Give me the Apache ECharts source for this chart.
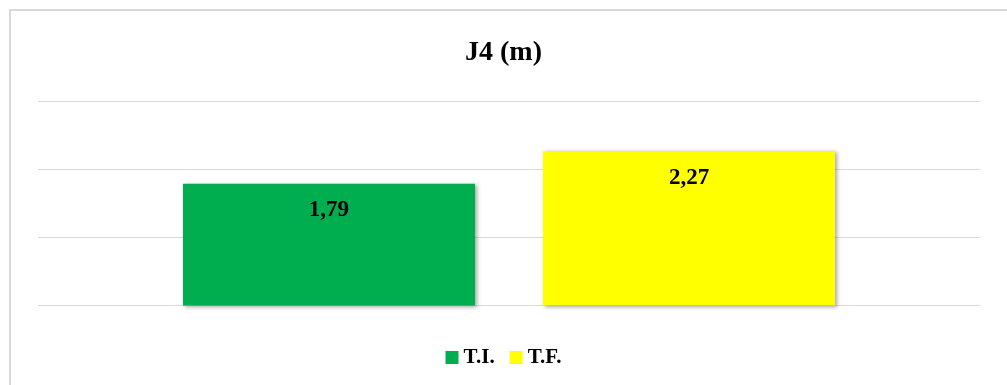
<!DOCTYPE html>
<html>
<head>
<meta charset="utf-8">
<script src="https://cdn.jsdelivr.net/npm/echarts@6/dist/echarts.min.js"></script>
<style>
    html, body { margin: 0; padding: 0; background: #fff; }
    #frame {
        position: absolute; left: 9px; top: 9px; width: 1010px; height: 390px;
        border: 2px solid #d9d9d9; box-sizing: border-box;
    }
    #chart { position: absolute; left: 0; top: 0; width: 1007px; height: 385px; }
</style>
</head>
<body>
<div id="frame"></div>
<div id="chart"></div>
<script>
    var title = 'J4 (m)';
    var categories = ['J4'];
    var seriesNames = ['T.I.', 'T.F.'];
    var seriesColors = ['#00ad4f', '#ffff00'];
    var values = [[1.79], [2.27]];
    var yTicks = [0, 1, 2, 3];

    var chart = echarts.init(document.getElementById('chart'));
    var font = '"Liberation Serif", "Times New Roman", serif';

    var series = [];
    for (var i = 0; i < seriesNames.length; i++) {
        series.push({
            name: seriesNames[i],
            type: 'bar',
            data: values[i],
            barWidth: 292,
            barGap: '23.3%',
            itemStyle: {
                color: seriesColors[i],
                shadowColor: 'rgba(0,0,0,0.35)',
                shadowBlur: 4,
                shadowOffsetX: 2,
                shadowOffsetY: 1
            },
            label: {
                show: true,
                position: 'insideTop',
                distance: 15,
                color: '#000',
                fontFamily: font,
                fontWeight: 'bold',
                fontSize: 23,
                formatter: function (p) {
                    return p.value.toFixed(2).replace('.', ',');
                }
            }
        });
    }

    chart.setOption({
        animation: false,
        title: {
            text: title,
            left: 'center',
            top: 34,
            textStyle: {
                fontFamily: font,
                fontWeight: 'bold',
                fontSize: 28,
                color: '#000'
            }
        },
        legend: {
            data: seriesNames,
            top: 342,
            left: 'center',
            itemWidth: 13,
            itemHeight: 13,
            itemGap: 15,
            icon: 'rect',
            textStyle: {
                fontFamily: font,
                fontWeight: 'bold',
                fontSize: 21,
                color: '#000'
            }
        },
        grid: {
            left: 38,
            right: 27,
            top: 101.5,
            bottom: 79.5
        },
        xAxis: {
            type: 'category',
            data: categories,
            axisLine: {show: false},
            axisTick: {show: false},
            axisLabel: {show: false}
        },
        yAxis: {
            type: 'value',
            min: yTicks[0],
            max: yTicks[yTicks.length - 1],
            interval: 1,
            axisLabel: {show: false},
            axisLine: {show: false},
            axisTick: {show: false},
            splitLine: {lineStyle: {color: '#d9d9d9', width: 1}}
        },
        series: series
    });
</script>
</body>
</html>
